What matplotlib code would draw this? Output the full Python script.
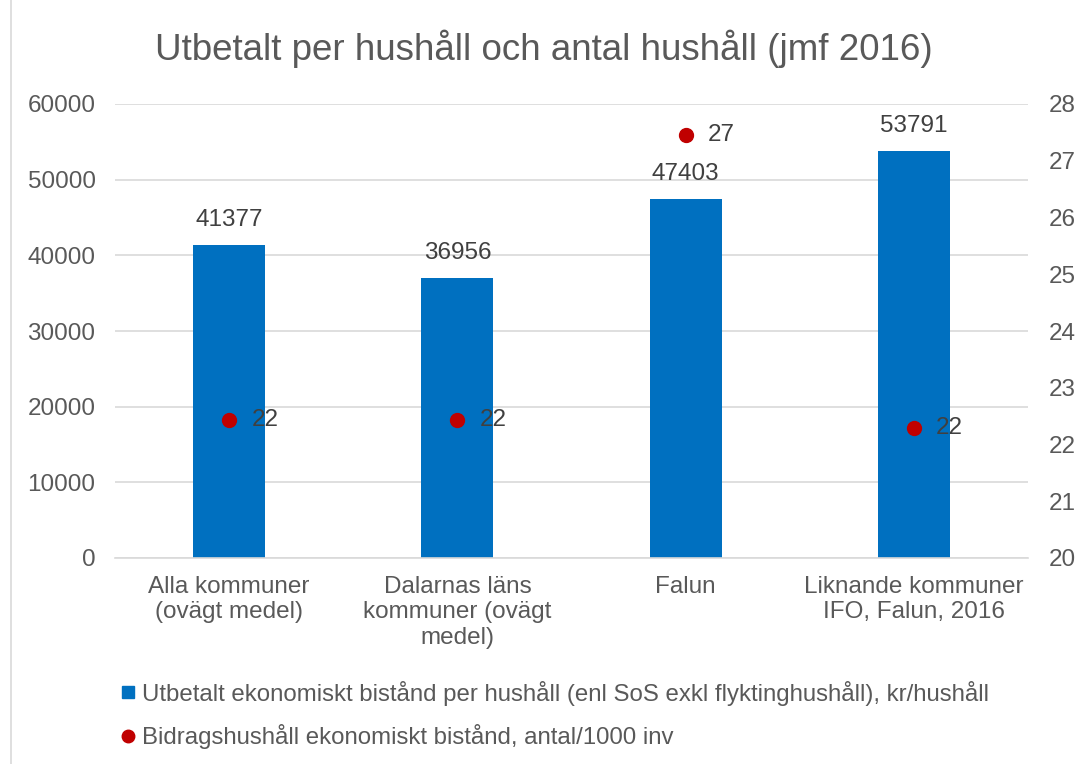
import matplotlib
matplotlib.use("Agg")
import matplotlib.pyplot as plt
from matplotlib.lines import Line2D
from matplotlib.patches import Rectangle

plt.rcParams['font.family'] = ['Liberation Sans', 'DejaVu Sans']

categories = ["Alla kommuner\n(ovägt medel)", "Dalarnas läns\nkommuner (ovägt\nmedel)", "Falun",
              "Liknande kommuner\nIFO, Falun, 2016"]
utbetalt = [41377, 36956, 47403, 53791]
bidragshushall = [22.44, 22.44, 27.45, 22.29]
left_ticks = [0, 10000, 20000, 30000, 40000, 50000, 60000]
right_ticks = [20, 21, 22, 23, 24, 25, 26, 27, 28]

title = "Utbetalt per hushåll och antal hushåll (jmf 2016)"
bar_label = "Utbetalt ekonomiskt bistånd per hushåll (enl SoS exkl flyktinghushåll), kr/hushåll"
dot_label = "Bidragshushåll ekonomiskt bistånd, antal/1000 inv"

bar_color = "#0070C0"
dot_color = "#C00000"
text_color = "#595959"
label_color = "#404040"
grid_color = "#D9D9D9"

fs = 17.5

fig = plt.figure(figsize=(10.88, 7.64), dpi=100)
ax = fig.add_axes([115/1088, 1-558/764, (1028-115)/1088, (558-104)/764])
ax2 = ax.twinx()

x = list(range(len(categories)))
ax.bar(x, utbetalt, width=0.315, color=bar_color, zorder=2)
ax.set_ylim(0, 60000)
ax.set_xlim(-0.5, len(categories) - 0.5)
ax.set_yticks(left_ticks)
ax.set_yticklabels([str(t) for t in left_ticks])
ax.yaxis.grid(True, color=grid_color, linewidth=1.2)
ax.set_axisbelow(True)
ax.set_xticks(x)
ax.set_xticklabels(categories, fontsize=fs, color=text_color, linespacing=1.2)
ax.tick_params(axis='x', length=0, pad=13)
ax.tick_params(axis='y', length=0, labelsize=fs, labelcolor=text_color, pad=14)
for s in ['top', 'right', 'left']:
    ax.spines[s].set_visible(False)
ax.spines['bottom'].set_color(grid_color)
ax.spines['bottom'].set_linewidth(1.2)

for xi, v in zip(x, utbetalt):
    ax.annotate(str(v), (xi, v), xytext=(0, 10), textcoords='offset points',
                ha='center', va='bottom', fontsize=fs, color=label_color)

ax2.plot(x, bidragshushall, linestyle='none', marker='o', markersize=10,
         color=dot_color, zorder=3)
ax2.set_ylim(20, 28)
ax2.set_yticks(right_ticks)
ax2.set_yticklabels([str(t) for t in right_ticks])
ax2.tick_params(axis='y', length=0, labelsize=fs, labelcolor=text_color, pad=15)
for s in ['top', 'right', 'left', 'bottom']:
    ax2.spines[s].set_visible(False)
for xi, v in zip(x, bidragshushall):
    ax2.annotate(f"{v:.0f}", (xi, v), xytext=(16, 0), textcoords='offset points',
                 ha='left', va='center', fontsize=fs, color=label_color)

fig.text(0.5, 1-49/764, title, ha='center', va='center', fontsize=26.5, color=text_color)

handles = [Line2D([], [], linestyle='none', marker='s', markersize=9, color=bar_color),
           Line2D([], [], linestyle='none', marker='o', markersize=9, color=dot_color)]
fig.legend(handles, [bar_label, dot_label], loc='upper left',
           bbox_to_anchor=(94/1088, 1-659/764), frameon=False, fontsize=17.3,
           handletextpad=0.1, handlelength=1.0, labelspacing=0.78, labelcolor=text_color)

fig.patches.append(Rectangle((11/1088, -0.01), 1.1, 1.1, transform=fig.transFigure,
                             fill=False, edgecolor=grid_color, linewidth=1.2))

fig.savefig("out.png", dpi=100)
